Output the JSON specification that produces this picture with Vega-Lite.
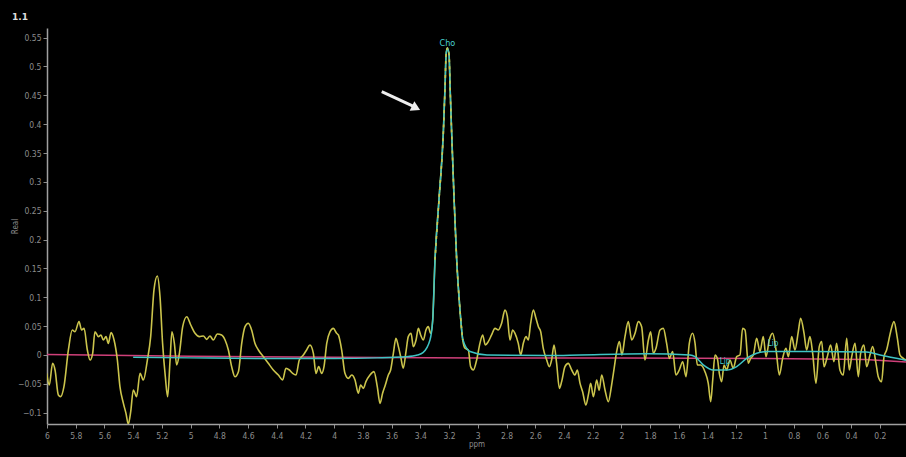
{
  "$schema": "https://vega.github.io/schema/vega-lite/v6.json",
  "width": 859,
  "height": 396,
  "autosize": "none",
  "padding": {"left": 47, "top": 28, "right": 0, "bottom": 33},
  "background": "#000000",
  "title": {"text": "1.1", "anchor": "start", "frame": "group", "dx": -35, "offset": 6, "fontSize": 9, "color": "#dddddd", "fontWeight": "bold", "font": "DejaVu Sans"},
  "config": {
    "view": {"stroke": null},
    "axis": {"grid": false, "labelColor": "#8c8c8c", "labelFont": "DejaVu Sans Condensed", "labelFontSize": 8.5, "tickColor": "#8c8c8c", "domainColor": "#a0a0a0", "domainWidth": 1.5, "tickSize": 4, "titleColor": "#8c8c8c", "titleFont": "DejaVu Sans Condensed", "titleFontSize": 8, "titleFontWeight": "normal"}
  },
  "datasets": {
    "yellow": [
      {"ppm":6.002,"v":-0.0318},{"ppm":5.984,"v":-0.052},{"ppm":5.961,"v":-0.0144},{"ppm":5.944,"v":-0.026},{"ppm":5.921,"v":-0.0693},{"ppm":5.905,"v":-0.0722},{"ppm":5.882,"v":-0.0549},{"ppm":5.851,"v":0.0087},{"ppm":5.824,"v":0.0433},{"ppm":5.805,"v":0.0404},{"ppm":5.777,"v":0.0578},{"ppm":5.759,"v":0.0433},{"ppm":5.742,"v":0.0462},{"ppm":5.719,"v":0.0087},{"ppm":5.7,"v":-0.0087},{"ppm":5.682,"v":0.0029},{"ppm":5.666,"v":0.0404},{"ppm":5.642,"v":0.0318},{"ppm":5.624,"v":0.0347},{"ppm":5.608,"v":0.026},{"ppm":5.589,"v":0.0318},{"ppm":5.573,"v":0.0202},{"ppm":5.554,"v":0.0387},{"ppm":5.533,"v":0.026},{"ppm":5.51,"v":-0.0087},{"ppm":5.492,"v":-0.0549},{"ppm":5.468,"v":-0.0838},{"ppm":5.45,"v":-0.1011},{"ppm":5.434,"v":-0.1196},{"ppm":5.417,"v":-0.0982},{"ppm":5.399,"v":-0.0607},{"ppm":5.376,"v":-0.0722},{"ppm":5.352,"v":-0.0318},{"ppm":5.329,"v":-0.0433},{"ppm":5.301,"v":-0.0087},{"ppm":5.278,"v":0.0318},{"ppm":5.255,"v":0.1127},{"ppm":5.232,"v":0.1369},{"ppm":5.213,"v":0.1011},{"ppm":5.195,"v":0.0202},{"ppm":5.176,"v":-0.0376},{"ppm":5.16,"v":-0.0722},{"ppm":5.143,"v":-0.0087},{"ppm":5.13,"v":0.0404},{"ppm":5.113,"v":0.0202},{"ppm":5.097,"v":-0.0173},{"ppm":5.078,"v":0.0029},{"ppm":5.055,"v":0.0491},{"ppm":5.027,"v":0.0664},{"ppm":4.999,"v":0.052},{"ppm":4.969,"v":0.0376},{"ppm":4.939,"v":0.0318},{"ppm":4.911,"v":0.0329},{"ppm":4.888,"v":0.0271},{"ppm":4.865,"v":0.0329},{"ppm":4.842,"v":0.026},{"ppm":4.814,"v":0.0364},{"ppm":4.784,"v":0.0347},{"ppm":4.76,"v":0.026},{"ppm":4.737,"v":0.0087},{"ppm":4.714,"v":-0.0202},{"ppm":4.691,"v":-0.0376},{"ppm":4.667,"v":-0.0289},{"ppm":4.644,"v":0.0202},{"ppm":4.621,"v":0.0491},{"ppm":4.598,"v":0.0549},{"ppm":4.575,"v":0.0433},{"ppm":4.552,"v":0.0202},{"ppm":4.528,"v":0.0087},{"ppm":4.493,"v":-0.0029},{"ppm":4.459,"v":-0.0144},{"ppm":4.424,"v":-0.026},{"ppm":4.389,"v":-0.0347},{"ppm":4.359,"v":-0.0433},{"ppm":4.336,"v":-0.0231},{"ppm":4.312,"v":-0.026},{"ppm":4.289,"v":-0.0318},{"ppm":4.266,"v":-0.0347},{"ppm":4.243,"v":-0.0087},{"ppm":4.215,"v":0.0},{"ppm":4.192,"v":0.0087},{"ppm":4.169,"v":0.0173},{"ppm":4.145,"v":0.0029},{"ppm":4.127,"v":-0.0318},{"ppm":4.108,"v":-0.0202},{"ppm":4.087,"v":-0.0318},{"ppm":4.071,"v":-0.0202},{"ppm":4.052,"v":0.0202},{"ppm":4.029,"v":0.0404},{"ppm":4.006,"v":0.0462},{"ppm":3.983,"v":0.0376},{"ppm":3.971,"v":0.0347},{"ppm":3.948,"v":0.0087},{"ppm":3.925,"v":-0.0318},{"ppm":3.902,"v":-0.0405},{"ppm":3.878,"v":-0.0347},{"ppm":3.855,"v":-0.0433},{"ppm":3.832,"v":-0.0664},{"ppm":3.816,"v":-0.052},{"ppm":3.797,"v":-0.0578},{"ppm":3.779,"v":-0.0462},{"ppm":3.751,"v":-0.0347},{"ppm":3.723,"v":-0.0289},{"ppm":3.7,"v":-0.0549},{"ppm":3.681,"v":-0.0838},{"ppm":3.663,"v":-0.0664},{"ppm":3.644,"v":-0.052},{"ppm":3.623,"v":-0.0347},{"ppm":3.607,"v":-0.026},{"ppm":3.588,"v":0.0029},{"ppm":3.57,"v":0.0289},{"ppm":3.553,"v":0.0145},{"ppm":3.537,"v":-0.0029},{"ppm":3.519,"v":-0.0231},{"ppm":3.5,"v":0.0058},{"ppm":3.484,"v":0.0318},{"ppm":3.465,"v":0.0376},{"ppm":3.449,"v":0.0145},{"ppm":3.43,"v":0.026},{"ppm":3.414,"v":0.0462},{"ppm":3.398,"v":0.0347},{"ppm":3.379,"v":0.026},{"ppm":3.361,"v":0.0433},{"ppm":3.345,"v":0.0491},{"ppm":3.328,"v":0.0376},{"ppm":3.314,"v":0.0607},{"ppm":3.298,"v":0.165},{"ppm":3.27,"v":0.27},{"ppm":3.24,"v":0.385},{"ppm":3.228,"v":0.465},{"ppm":3.221,"v":0.52},{"ppm":3.212,"v":0.532},{"ppm":3.2,"v":0.52},{"ppm":3.193,"v":0.465},{"ppm":3.182,"v":0.385},{"ppm":3.165,"v":0.27},{"ppm":3.147,"v":0.165},{"ppm":3.124,"v":0.078},{"ppm":3.105,"v":0.026},{"ppm":3.089,"v":0.0116},{"ppm":3.066,"v":0.0087},{"ppm":3.05,"v":-0.0202},{"ppm":3.031,"v":-0.026},{"ppm":3.008,"v":-0.0087},{"ppm":2.985,"v":0.0202},{"ppm":2.966,"v":0.0347},{"ppm":2.948,"v":0.0173},{"ppm":2.927,"v":0.0231},{"ppm":2.904,"v":0.0347},{"ppm":2.88,"v":0.0462},{"ppm":2.857,"v":0.0433},{"ppm":2.834,"v":0.0549},{"ppm":2.811,"v":0.078},{"ppm":2.794,"v":0.0664},{"ppm":2.776,"v":0.026},{"ppm":2.757,"v":0.0433},{"ppm":2.741,"v":0.0376},{"ppm":2.718,"v":0.0202},{"ppm":2.701,"v":0.0},{"ppm":2.683,"v":0.0202},{"ppm":2.664,"v":0.0318},{"ppm":2.648,"v":0.026},{"ppm":2.632,"v":0.0549},{"ppm":2.613,"v":0.078},{"ppm":2.595,"v":0.0636},{"ppm":2.578,"v":0.0491},{"ppm":2.562,"v":0.0404},{"ppm":2.544,"v":0.0116},{"ppm":2.52,"v":-0.0087},{"ppm":2.502,"v":-0.0202},{"ppm":2.486,"v":-0.0087},{"ppm":2.469,"v":0.0173},{"ppm":2.451,"v":-0.0145},{"ppm":2.432,"v":-0.0578},{"ppm":2.416,"v":-0.0462},{"ppm":2.393,"v":-0.0202},{"ppm":2.37,"v":-0.0145},{"ppm":2.346,"v":-0.026},{"ppm":2.323,"v":-0.0347},{"ppm":2.307,"v":-0.026},{"ppm":2.288,"v":-0.0491},{"ppm":2.27,"v":-0.0636},{"ppm":2.247,"v":-0.0867},{"ppm":2.228,"v":-0.0664},{"ppm":2.214,"v":-0.0491},{"ppm":2.195,"v":-0.0722},{"ppm":2.172,"v":-0.0433},{"ppm":2.155,"v":-0.061},{"ppm":2.137,"v":-0.0347},{"ppm":2.114,"v":-0.0607},{"ppm":2.091,"v":-0.0809},{"ppm":2.068,"v":-0.052},{"ppm":2.052,"v":-0.026},{"ppm":2.033,"v":0.0058},{"ppm":2.014,"v":0.0231},{"ppm":1.996,"v":0.0},{"ppm":1.975,"v":0.0318},{"ppm":1.952,"v":0.0578},{"ppm":1.928,"v":0.026},{"ppm":1.905,"v":0.0376},{"ppm":1.882,"v":0.0578},{"ppm":1.859,"v":0.0491},{"ppm":1.836,"v":-0.0087},{"ppm":1.812,"v":0.026},{"ppm":1.796,"v":0.0404},{"ppm":1.778,"v":0.0029},{"ppm":1.759,"v":0.0116},{"ppm":1.731,"v":0.0433},{"ppm":1.708,"v":0.0462},{"ppm":1.685,"v":0.0202},{"ppm":1.666,"v":-0.0058},{"ppm":1.643,"v":0.0058},{"ppm":1.62,"v":-0.0347},{"ppm":1.597,"v":-0.026},{"ppm":1.573,"v":-0.0116},{"ppm":1.55,"v":-0.0376},{"ppm":1.527,"v":0.0202},{"ppm":1.504,"v":0.0376},{"ppm":1.487,"v":0.0202},{"ppm":1.471,"v":-0.0173},{"ppm":1.448,"v":-0.0173},{"ppm":1.418,"v":-0.0289},{"ppm":1.395,"v":-0.0491},{"ppm":1.378,"v":-0.0809},{"ppm":1.364,"v":-0.0433},{"ppm":1.348,"v":0.0},{"ppm":1.332,"v":-0.0058},{"ppm":1.318,"v":-0.0318},{"ppm":1.302,"v":-0.0462},{"ppm":1.285,"v":-0.0173},{"ppm":1.267,"v":-0.026},{"ppm":1.244,"v":-0.0087},{"ppm":1.221,"v":-0.0231},{"ppm":1.197,"v":-0.0029},{"ppm":1.174,"v":0.0},{"ppm":1.156,"v":0.0462},{"ppm":1.139,"v":0.0433},{"ppm":1.116,"v":-0.0144},{"ppm":1.1,"v":-0.0058},{"ppm":1.081,"v":0.0},{"ppm":1.058,"v":0.0289},{"ppm":1.035,"v":0.0058},{"ppm":1.012,"v":0.0318},{"ppm":0.993,"v":-0.0029},{"ppm":0.97,"v":0.026},{"ppm":0.947,"v":0.0376},{"ppm":0.923,"v":0.0087},{"ppm":0.9,"v":-0.0347},{"ppm":0.877,"v":-0.0058},{"ppm":0.854,"v":0.0116},{"ppm":0.837,"v":-0.0029},{"ppm":0.814,"v":0.0318},{"ppm":0.791,"v":0.0087},{"ppm":0.768,"v":0.0404},{"ppm":0.752,"v":0.0636},{"ppm":0.728,"v":0.0376},{"ppm":0.71,"v":0.0087},{"ppm":0.687,"v":0.0318},{"ppm":0.668,"v":0.0029},{"ppm":0.645,"v":-0.0491},{"ppm":0.622,"v":0.0145},{"ppm":0.605,"v":0.0231},{"ppm":0.589,"v":-0.0202},{"ppm":0.566,"v":-0.0029},{"ppm":0.543,"v":0.0173},{"ppm":0.52,"v":-0.0116},{"ppm":0.501,"v":0.0202},{"ppm":0.478,"v":-0.026},{"ppm":0.455,"v":-0.0347},{"ppm":0.431,"v":0.0289},{"ppm":0.413,"v":-0.026},{"ppm":0.396,"v":-0.0029},{"ppm":0.373,"v":0.0202},{"ppm":0.35,"v":-0.0376},{"ppm":0.334,"v":0.0029},{"ppm":0.311,"v":0.0173},{"ppm":0.292,"v":-0.0202},{"ppm":0.269,"v":0.0},{"ppm":0.25,"v":0.0145},{"ppm":0.227,"v":-0.0144},{"ppm":0.211,"v":-0.0376},{"ppm":0.188,"v":-0.0462},{"ppm":0.171,"v":-0.0029},{"ppm":0.153,"v":0.0087},{"ppm":0.125,"v":0.0404},{"ppm":0.102,"v":0.0578},{"ppm":0.078,"v":0.0289},{"ppm":0.06,"v":0.0},{"ppm":0.037,"v":-0.0058},{"ppm":0.018,"v":-0.0087}
    ],
    "fit": [
      {"ppm":5.4,"v":-0.004},{"ppm":5.0,"v":-0.005},{"ppm":4.5,"v":-0.006},{"ppm":4.0,"v":-0.006},{"ppm":3.7,"v":-0.005},{"ppm":3.5,"v":-0.003},{"ppm":3.42,"v":0.0},{"ppm":3.382,"v":0.004},{"ppm":3.333,"v":0.026},{"ppm":3.314,"v":0.06},{"ppm":3.298,"v":0.165},{"ppm":3.27,"v":0.27},{"ppm":3.24,"v":0.385},{"ppm":3.228,"v":0.465},{"ppm":3.221,"v":0.52},{"ppm":3.212,"v":0.532},{"ppm":3.2,"v":0.52},{"ppm":3.193,"v":0.465},{"ppm":3.182,"v":0.385},{"ppm":3.165,"v":0.27},{"ppm":3.147,"v":0.165},{"ppm":3.124,"v":0.078},{"ppm":3.103,"v":0.026},{"ppm":3.054,"v":0.006},{"ppm":2.936,"v":0.0},{"ppm":2.5,"v":-0.001},{"ppm":2.288,"v":0.0},{"ppm":1.824,"v":0.002},{"ppm":1.522,"v":0.0},{"ppm":1.487,"v":-0.003},{"ppm":1.43,"v":-0.017},{"ppm":1.36,"v":-0.026},{"ppm":1.267,"v":-0.026},{"ppm":1.197,"v":-0.02},{"ppm":1.128,"v":-0.006},{"ppm":1.058,"v":0.003},{"ppm":0.988,"v":0.006},{"ppm":0.663,"v":0.006},{"ppm":0.292,"v":0.005},{"ppm":0.199,"v":0.0},{"ppm":0.018,"v":-0.009}
    ],
    "baseline": [
      {"ppm":6.0,"v":0.001},{"ppm":5.0,"v":-0.002},{"ppm":4.0,"v":-0.004},{"ppm":3.0,"v":-0.005},{"ppm":2.0,"v":-0.005},{"ppm":1.0,"v":-0.006},{"ppm":0.3,"v":-0.008},{"ppm":0.018,"v":-0.012}
    ],
    "labels": [
      {"ppm":3.212,"v":0.541,"label":"Cho","size":9},
      {"ppm":1.279,"v":-0.013,"label":"Lip","size":8},
      {"ppm":0.944,"v":0.019,"label":"Lip","size":8}
    ],
    "arrow": [
      {"ppm":3.669,"v":0.4563,"ppm2":3.451,"v2":0.4315}
    ],
    "arrowhead": [
      {"ppm":3.43,"v":0.428}
    ]
  },
  "encoding": {
    "x": {"field": "ppm", "type": "quantitative", "scale": {"domain": [6, 0.018], "nice": false, "zero": false},
      "axis": {"title": "ppm", "values": [6,5.8,5.6,5.4,5.2,5,4.8,4.6,4.4,4.2,4,3.8,3.6,3.4,3.2,3,2.8,2.6,2.4,2.2,2,1.8,1.6,1.4,1.2,1,0.8,0.6,0.4,0.2], "format": "~g", "labelPadding": 3, "titlePadding": 1, "labelFlush": false}},
    "y": {"field": "v", "type": "quantitative", "scale": {"domain": [-0.1196, 0.5667], "nice": false, "zero": false},
      "axis": {"title": "Real", "values": [-0.1,-0.05,0,0.05,0.1,0.15,0.2,0.25,0.3,0.35,0.4,0.45,0.5,0.55], "format": "~g", "labelPadding": 2, "titleX": -28}}
  },
  "layer": [
    {"data": {"name": "baseline"}, "mark": {"type": "line", "color": "#d0407a", "strokeWidth": 1.5, "clip": true}},
    {"data": {"name": "yellow"}, "mark": {"type": "line", "color": "#cbc44c", "strokeWidth": 1.6, "interpolate": "monotone", "clip": true}},
    {"data": {"name": "fit"}, "mark": {"type": "line", "color": "#3ec4c4", "strokeWidth": 1.5, "interpolate": "monotone", "clip": true}},
    {"data": {"name": "yellow"}, "transform": [{"filter": "datum.ppm > 3.1 && datum.ppm < 3.31"}], "mark": {"type": "line", "color": "#cbc44c", "strokeWidth": 1.6, "strokeDash": [3, 4], "interpolate": "monotone", "clip": true}},
    {"data": {"name": "labels"}, "mark": {"type": "text", "color": "#48d0d0", "font": "DejaVu Sans Condensed", "baseline": "middle", "align": "center"}, "encoding": {"text": {"field": "label"}, "size": {"field": "size", "type": "quantitative", "scale": null}}},
    {"data": {"name": "arrow"}, "mark": {"type": "rule", "color": "#eeeeee", "strokeWidth": 3}, "encoding": {"x2": {"field": "ppm2"}, "y2": {"field": "v2"}}},
    {"data": {"name": "arrowhead"}, "mark": {"type": "point", "shape": "triangle-right", "filled": true, "color": "#eeeeee", "size": 110, "angle": 27, "opacity": 1}}
  ]
}
